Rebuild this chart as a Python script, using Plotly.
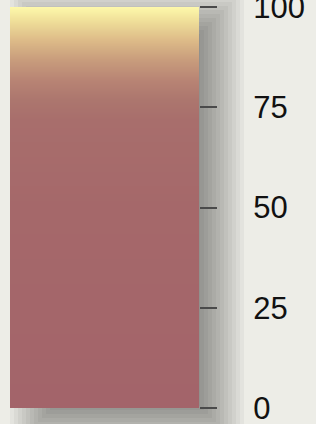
import plotly.graph_objects as go

# Data: colour-bar levels and tick labels
levels = [0, 25, 50, 75, 100]
tick_labels = ["0", "25", "50", "75", "100"]
bar_x = [0, 1]

colorscale = [
    [0.000, "#A3646A"],
    [0.500, "#A5686A"],
    [0.718, "#A86E6C"],
    [0.768, "#AC766E"],
    [0.818, "#B88474"],
    [0.868, "#C89C7C"],
    [0.918, "#DDBB88"],
    [0.968, "#F0E09A"],
    [1.000, "#FDF8AA"],
]

z = [[v, v] for v in levels]

W, H = 316, 424
L, R, T, B = 10, 117, 7, 16
PW, PH = W - L - R, H - T - B

fig = go.Figure(go.Heatmap(
    x=bar_x, y=levels, z=z, zmin=0, zmax=100,
    colorscale=colorscale, zsmooth="best", showscale=False, hoverinfo="skip",
))

# drop shadow (layered translucent rectangles, pixel -> paper units)
def px_x(p):
    return (p - L) / PW

def px_y(p):
    return 1 - (p - T) / PH

shapes = []
bx0, bx1, by0, by1 = 40, 214, 20, 420
blur = 30
n = 16
for i in range(n):
    r = -blur + i * (2 * blur / (n - 1))
    shapes.append(dict(
        type="rect", xref="paper", yref="paper", layer="below",
        x0=px_x(bx0 - r), x1=px_x(bx1 + r),
        y0=px_y(by1 + r), y1=px_y(by0 - r),
        fillcolor="rgba(20,24,16,0.044)", line=dict(width=0),
    ))

fig.update_layout(
    width=W, height=H,
    margin=dict(l=L, r=R, t=T, b=B, autoexpand=False),
    paper_bgcolor="#EDEDE7",
    plot_bgcolor="rgba(0,0,0,0)",
    shapes=shapes,
    xaxis=dict(range=[0, 1], visible=False, fixedrange=True, automargin=False),
    yaxis=dict(
        range=[0, 100], side="right", tickmode="array",
        tickvals=levels, ticktext=tick_labels, automargin=False, fixedrange=True,
        ticks="outside", ticklen=17, tickwidth=1.6, tickcolor="#4a4a4a",
        ticklabelstandoff=30, ticklabeloverflow="allow",
        showgrid=False, zeroline=False, showline=False,
        tickfont=dict(family="Liberation Sans, Arial", size=31, color="#111111"),
    ),
    showlegend=False,
)

fig.write_html("out.html", config={"displayModeBar": False},
               post_script="document.body.style.margin='0';")
